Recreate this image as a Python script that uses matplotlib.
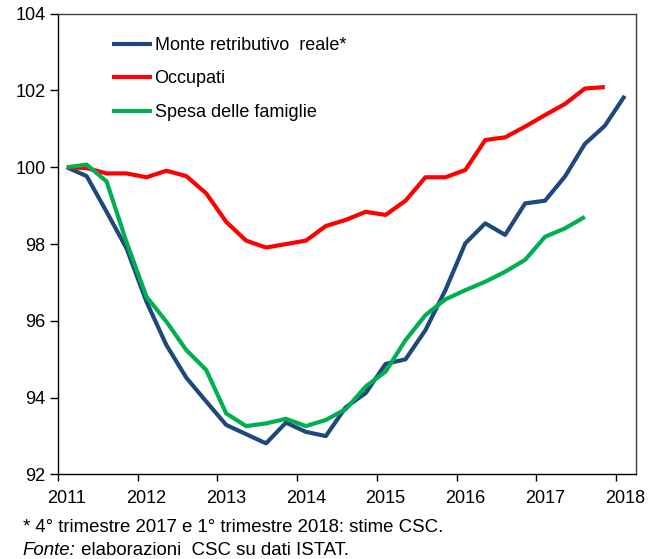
import matplotlib
matplotlib.use("Agg")
import matplotlib.pyplot as plt
import numpy as np

plt.rcParams['font.family'] = ['Liberation Sans', 'DejaVu Sans']

years = [2011, 2012, 2013, 2014, 2015, 2016, 2017, 2018]

# quarterly values, index 100 = 2011Q1
monte = [100.0, 99.77, 98.84, 97.89, 96.5, 95.37, 94.52, 93.9, 93.29, 93.05,
         92.81, 93.35, 93.11, 93.0, 93.75, 94.12, 94.88, 95.0, 95.76, 96.8,
         98.02, 98.54, 98.24, 99.06, 99.13, 99.76, 100.61, 101.08, 101.86]
occupati = [100.0, 99.98, 99.84, 99.84, 99.74, 99.91, 99.77, 99.32, 98.58, 98.09,
            97.91, 98.0, 98.09, 98.47, 98.63, 98.84, 98.76, 99.13, 99.74, 99.74,
            99.93, 100.71, 100.78, 101.06, 101.36, 101.65, 102.05, 102.09]
spesa = [100.0, 100.07, 99.63, 98.05, 96.63, 95.98, 95.24, 94.72, 93.59, 93.26,
         93.33, 93.45, 93.26, 93.42, 93.7, 94.29, 94.68, 95.5, 96.15, 96.56,
         96.8, 97.02, 97.28, 97.59, 98.19, 98.41, 98.71]

labels = ['Monte retributivo  reale*', 'Occupati', 'Spesa delle famiglie']
colors = ['#1F497D', '#FF0000', '#00B050']

fig = plt.figure(figsize=(6.5, 5.59), dpi=100)
ax = fig.add_axes([0.0892, 0.1512, 0.978 - 0.0892, 0.9755 - 0.1512])

for vals, lab, col in zip([monte, occupati, spesa], labels, colors):
    x = np.arange(len(vals))
    ax.plot(x, vals, color=col, lw=3, label=lab, solid_capstyle='butt')

ax.set_xlim(-0.44, 28.55)
ax.set_ylim(92, 104)
ax.set_yticks(np.arange(92, 105, 2))
ax.set_yticklabels([str(v) for v in range(92, 105, 2)], fontsize=13)

# year ticks at boundaries, labels centered on Q1 points
ax.set_xticks([4 * k for k in range(len(years))])
ax.set_xticklabels([str(y) for y in years], fontsize=13)
ax.tick_params(axis='x', which='major', length=0, pad=11)
ax.set_xticks([4 * k - 0.44 for k in range(len(years))], minor=True)
ax.tick_params(axis='x', which='minor', length=5, direction='out', width=1)
ax.tick_params(axis='y', length=6, direction='out', width=1, pad=3)

for s in ax.spines.values():
    s.set_linewidth(1.0)
    s.set_color('#000000')
ax.spines['right'].set_color('#404040')
ax.spines['top'].set_color('#404040')

leg = ax.legend(loc='upper left', bbox_to_anchor=(0.065, 0.985), frameon=False,
                fontsize=13, handlelength=2.2, handletextpad=0.17,
                labelspacing=0.92)

fs = 13.4
fig.text(0.035, 0.0555, '* 4° trimestre 2017 e 1° trimestre 2018: stime CSC.',
         fontsize=fs, va='center')
t = fig.text(0.035, 0.0161, 'Fonte:', fontsize=fs, style='italic', va='center')
fig.canvas.draw()
bb = t.get_window_extent(renderer=fig.canvas.get_renderer())
x1 = bb.x1 / fig.bbox.width
fig.text(x1, 0.0161, ' elaborazioni  CSC su dati ISTAT.', fontsize=fs,
         va='center')

fig.savefig('out.png', dpi=100)
